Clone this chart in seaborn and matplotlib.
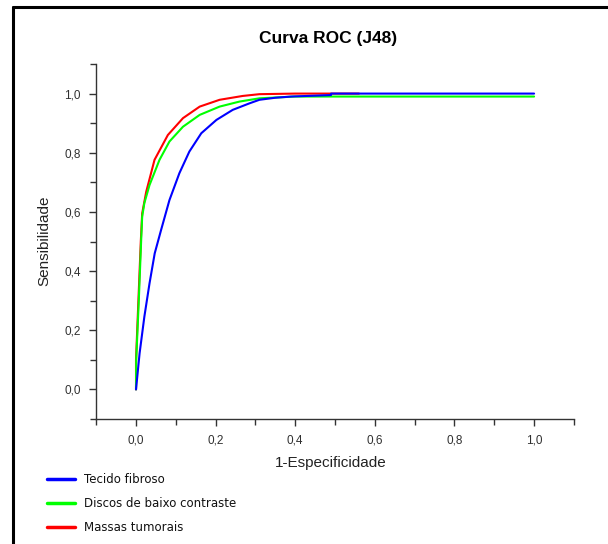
import numpy as np
import pandas as pd
import seaborn as sns
import matplotlib.pyplot as plt
from matplotlib.lines import Line2D
from matplotlib.ticker import MultipleLocator, FuncFormatter

# curve points
blue_x = [0, 0.009, 0.021, 0.034, 0.047, 0.063, 0.084, 0.109, 0.134, 0.164, 0.202, 0.243, 0.285, 0.31,
          0.35, 0.39, 0.49, 0.49, 1.0]
blue_y = [0, 0.122, 0.246, 0.359, 0.46, 0.539, 0.64, 0.731, 0.804, 0.866, 0.911, 0.945, 0.967, 0.979,
          0.986, 0.99, 0.995, 1.0, 1.0]

green_x = [0, 0.0005, 0.007, 0.013, 0.0155, 0.021, 0.034, 0.059, 0.084, 0.118, 0.16, 0.21, 0.26, 0.31,
           0.4, 1.0]
green_y = [0, 0.099, 0.30, 0.505, 0.584, 0.63, 0.691, 0.776, 0.838, 0.888, 0.928, 0.956, 0.973, 0.984,
           0.99, 0.99]

red_x = [0, 0.0, 0.006, 0.012, 0.0155, 0.0256, 0.0465, 0.08, 0.118, 0.16, 0.21, 0.268, 0.31, 0.4, 0.56]
red_y = [0, 0.1, 0.3, 0.5, 0.595, 0.668, 0.776, 0.86, 0.917, 0.956, 0.979, 0.992, 0.998, 1.0, 1.0]

labels = ["Tecido fibroso", "Discos de baixo contraste", "Massas tumorais"]
colors = {"Tecido fibroso": "#0000ff", "Discos de baixo contraste": "#00ff00", "Massas tumorais": "#ff0000"}

frames = []
for lab, xs, ys in zip(labels, [blue_x, green_x, red_x], [blue_y, green_y, red_y]):
    frames.append(pd.DataFrame({"x": xs, "y": ys, "serie": lab}))
df = pd.concat(frames, ignore_index=True)

sns.set_style("ticks")
plt.rcParams['font.family'] = ['Liberation Sans', 'DejaVu Sans']

fig = plt.figure(figsize=(6.08, 5.44), dpi=100)
ax = fig.add_axes([96.2 / 608, 1 - 419 / 544, 477.7 / 608, 355 / 544])

# red first, blue on top
for lab in ["Massas tumorais", "Discos de baixo contraste", "Tecido fibroso"]:
    sns.lineplot(data=df[df["serie"] == lab], x="x", y="y", sort=False, estimator=None,
                 color=colors[lab], linewidth=1.5, ax=ax, legend=False)

ax.set_xlim(-0.1, 1.1)
ax.set_ylim(-0.1, 1.1)
ax.xaxis.set_major_locator(MultipleLocator(0.2))
ax.yaxis.set_major_locator(MultipleLocator(0.2))
ax.xaxis.set_minor_locator(MultipleLocator(0.1))
ax.yaxis.set_minor_locator(MultipleLocator(0.1))
fmt = FuncFormatter(lambda v, p: f"{v:.1f}".replace(".", ","))
ax.xaxis.set_major_formatter(fmt)
ax.yaxis.set_major_formatter(fmt)
ax.tick_params(which="both", direction="out", color="#333333", width=1.0, labelsize=8.5, labelcolor="#303030")
ax.tick_params(which="major", length=5, pad=6)
ax.tick_params(which="minor", length=4)
for s in ["left", "bottom"]:
    ax.spines[s].set_color("#333333")
    ax.spines[s].set_linewidth(1.0)
sns.despine(ax=ax)

ax.set_xlabel("1-Especificidade", fontsize=11, color="#222222")
ax.set_ylabel("Sensibilidade", fontsize=11, color="#222222")
ax.xaxis.set_label_coords(0.49, -0.103)
ax.yaxis.set_label_coords(-0.093, 0.501)

fig.text(328.5 / 608, 1 - 38 / 544, "Curva ROC (J48)", ha="center", va="center",
         fontsize=12.5, fontweight="bold", color="black")

handles = [Line2D([0], [0], color=colors[l], linewidth=2.5) for l in labels]
fig.legend(handles, labels, loc="upper left", bbox_to_anchor=(46.5 / 608, 1 - 473 / 544),
           frameon=False, borderpad=0, borderaxespad=0, handlelength=2.4, handletextpad=0.75,
           labelspacing=0.95, prop={"family": "DejaVu Sans", "size": 8.5}, labelcolor="#111111")

# page frame on the left and top
fig.add_artist(Line2D([12.5 / 608, 12.5 / 608], [0, 1 - 7 / 544], color="black", linewidth=2.2))
fig.add_artist(Line2D([12.5 / 608, 1], [1 - 7 / 544, 1 - 7 / 544], color="black", linewidth=2.2))

fig.savefig("out.png", dpi=100)
